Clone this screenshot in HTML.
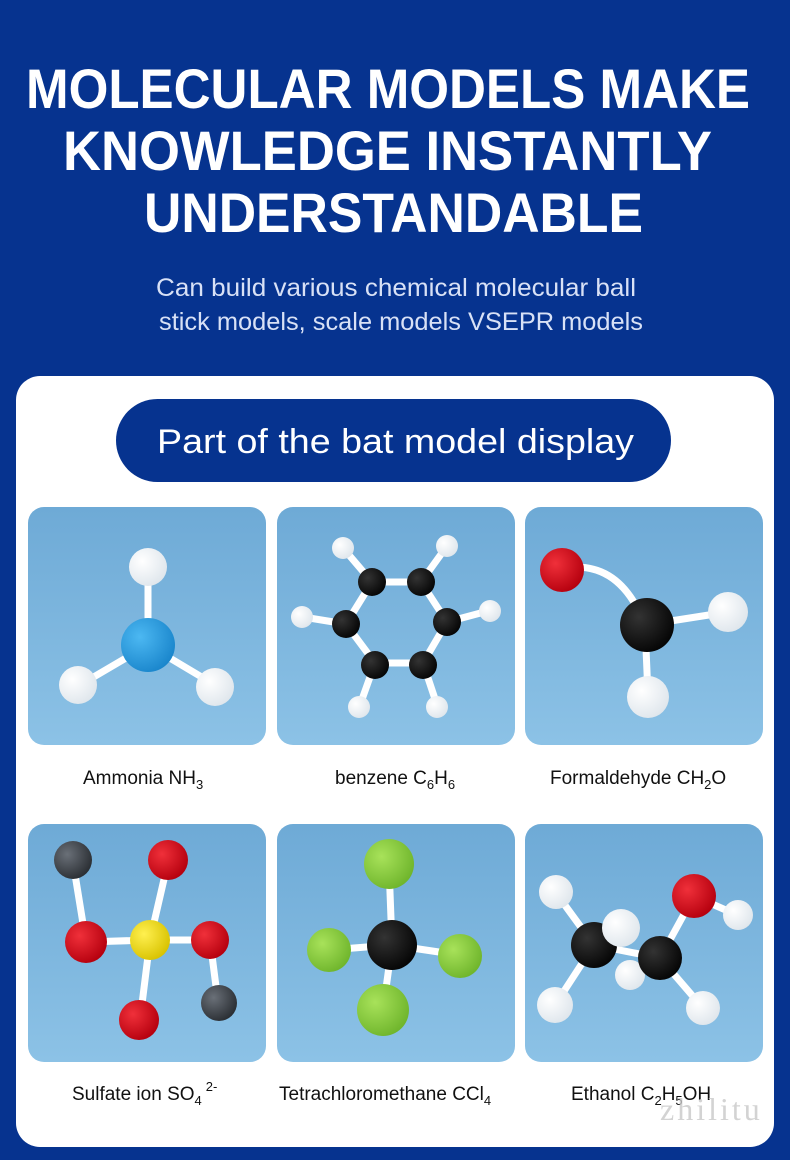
<!DOCTYPE html>
<html><head><meta charset="utf-8"><style>html,body{margin:0;padding:0;background:#06338f}svg{display:block}</style></head><body>
<svg width="790" height="1160" viewBox="0 0 790 1160" xmlns="http://www.w3.org/2000/svg" font-family="Liberation Sans, sans-serif">
<defs>
<linearGradient id="bg" x1="0" y1="0" x2="0" y2="1"><stop offset="0" stop-color="#6eaad6"/><stop offset="1" stop-color="#8cc2e6"/></linearGradient>
<radialGradient id="w" cx="0.35" cy="0.35" r="0.7"><stop offset="0" stop-color="#ffffff"/><stop offset="1" stop-color="#dfe6ec"/></radialGradient>
<radialGradient id="k" cx="0.35" cy="0.35" r="0.7"><stop offset="0" stop-color="#333"/><stop offset="1" stop-color="#050505"/></radialGradient>
<radialGradient id="r" cx="0.35" cy="0.35" r="0.7"><stop offset="0" stop-color="#f0303a"/><stop offset="1" stop-color="#b5000e"/></radialGradient>
<radialGradient id="g" cx="0.35" cy="0.35" r="0.7"><stop offset="0" stop-color="#a8e25a"/><stop offset="1" stop-color="#6fb52c"/></radialGradient>
<radialGradient id="b" cx="0.35" cy="0.35" r="0.7"><stop offset="0" stop-color="#4cb8f2"/><stop offset="1" stop-color="#1a86cc"/></radialGradient>
<radialGradient id="y" cx="0.35" cy="0.35" r="0.7"><stop offset="0" stop-color="#fff050"/><stop offset="1" stop-color="#d8c200"/></radialGradient>
<radialGradient id="d" cx="0.35" cy="0.35" r="0.7"><stop offset="0" stop-color="#6a7078"/><stop offset="1" stop-color="#2a2e33"/></radialGradient>
</defs>
<rect width="790" height="1160" fill="#06338f"/>
<g fill="#fff" font-weight="bold" font-size="56">
<text x="26" y="108" textLength="724" lengthAdjust="spacingAndGlyphs">MOLECULAR MODELS MAKE</text>
<text x="63" y="170" textLength="649" lengthAdjust="spacingAndGlyphs">KNOWLEDGE INSTANTLY</text>
<text x="144" y="232" textLength="499" lengthAdjust="spacingAndGlyphs">UNDERSTANDABLE</text>
</g>
<g fill="#d8e1f6" font-size="25">
<text x="156" y="296" textLength="480" lengthAdjust="spacingAndGlyphs">Can build various chemical molecular ball</text>
<text x="159" y="330" textLength="484" lengthAdjust="spacingAndGlyphs">stick models, scale models VSEPR models</text>
</g>
<rect x="16" y="376" width="758" height="771" rx="24" fill="#fff"/>
<rect x="116" y="399" width="555" height="83" rx="41.5" fill="#06338f"/>
<text x="157" y="453" fill="#fff" font-size="34" textLength="477" lengthAdjust="spacingAndGlyphs">Part of the bat model display</text>
<g>
<rect x="28" y="507" width="238" height="238" rx="16" fill="url(#bg)"/>
<rect x="277" y="507" width="238" height="238" rx="16" fill="url(#bg)"/>
<rect x="525" y="507" width="238" height="238" rx="16" fill="url(#bg)"/>
<rect x="28" y="824" width="238" height="238" rx="16" fill="url(#bg)"/>
<rect x="277" y="824" width="238" height="238" rx="16" fill="url(#bg)"/>
<rect x="525" y="824" width="238" height="238" rx="16" fill="url(#bg)"/>
</g>
<g stroke="#fff" stroke-width="7" stroke-linecap="round" fill="none">
<!-- ammonia -->
<line x1="148" y1="565" x2="148" y2="645"/><line x1="148" y1="645" x2="80" y2="685"/><line x1="148" y1="645" x2="215" y2="685"/>
<!-- benzene -->
<polygon points="372,582 421,582 447,622 423,663 375,663 346,624"/>
<line x1="372" y1="582" x2="343" y2="548"/><line x1="421" y1="582" x2="447" y2="546"/><line x1="447" y1="622" x2="488" y2="611"/><line x1="346" y1="624" x2="303" y2="617"/><line x1="375" y1="663" x2="360" y2="705"/><line x1="423" y1="663" x2="437" y2="705"/>
<!-- formaldehyde -->
<path d="M565,568 Q620,560 645,625"/><line x1="645" y1="625" x2="728" y2="612"/><line x1="645" y1="625" x2="648" y2="695"/>
<!-- sulfate -->
<line x1="150" y1="940" x2="86" y2="942"/><line x1="150" y1="940" x2="210" y2="940"/><line x1="150" y1="940" x2="168" y2="862"/><line x1="150" y1="940" x2="140" y2="1020"/><line x1="86" y1="942" x2="73" y2="862"/><line x1="210" y1="940" x2="218" y2="1002"/>
<!-- CCl4 -->
<line x1="392" y1="945" x2="389" y2="866"/><line x1="392" y1="945" x2="329" y2="950"/><line x1="392" y1="945" x2="459" y2="955"/><line x1="392" y1="945" x2="383" y2="1010"/>
<!-- ethanol -->
<line x1="594" y1="945" x2="556" y2="893"/><line x1="594" y1="945" x2="555" y2="1005"/><line x1="594" y1="945" x2="660" y2="958"/><line x1="660" y1="958" x2="694" y2="896"/><line x1="694" y1="896" x2="737" y2="915"/><line x1="660" y1="958" x2="703" y2="1008"/><line x1="660" y1="958" x2="630" y2="975"/>
</g>
<!-- atoms -->
<g>
<circle cx="148" cy="567" r="19" fill="url(#w)"/><circle cx="148" cy="645" r="27" fill="url(#b)"/><circle cx="78" cy="685" r="19" fill="url(#w)"/><circle cx="215" cy="687" r="19" fill="url(#w)"/>
<circle cx="343" cy="548" r="11" fill="url(#w)"/><circle cx="447" cy="546" r="11" fill="url(#w)"/><circle cx="490" cy="611" r="11" fill="url(#w)"/><circle cx="302" cy="617" r="11" fill="url(#w)"/><circle cx="359" cy="707" r="11" fill="url(#w)"/><circle cx="437" cy="707" r="11" fill="url(#w)"/>
<circle cx="372" cy="582" r="14" fill="url(#k)"/><circle cx="421" cy="582" r="14" fill="url(#k)"/><circle cx="447" cy="622" r="14" fill="url(#k)"/><circle cx="346" cy="624" r="14" fill="url(#k)"/><circle cx="375" cy="665" r="14" fill="url(#k)"/><circle cx="423" cy="665" r="14" fill="url(#k)"/>
<circle cx="562" cy="570" r="22" fill="url(#r)"/><circle cx="728" cy="612" r="20" fill="url(#w)"/><circle cx="647" cy="625" r="27" fill="url(#k)"/><circle cx="648" cy="697" r="21" fill="url(#w)"/>
<circle cx="73" cy="860" r="19" fill="url(#d)"/><circle cx="168" cy="860" r="20" fill="url(#r)"/><circle cx="86" cy="942" r="21" fill="url(#r)"/><circle cx="210" cy="940" r="19" fill="url(#r)"/><circle cx="150" cy="940" r="20" fill="url(#y)"/><circle cx="219" cy="1003" r="18" fill="url(#d)"/><circle cx="139" cy="1020" r="20" fill="url(#r)"/>
<circle cx="389" cy="864" r="25" fill="url(#g)"/><circle cx="329" cy="950" r="22" fill="url(#g)"/><circle cx="460" cy="956" r="22" fill="url(#g)"/><circle cx="392" cy="945" r="25" fill="url(#k)"/><circle cx="383" cy="1010" r="26" fill="url(#g)"/>
<circle cx="556" cy="892" r="17" fill="url(#w)"/><circle cx="594" cy="945" r="23" fill="url(#k)"/><circle cx="621" cy="928" r="19" fill="url(#w)"/><circle cx="555" cy="1005" r="18" fill="url(#w)"/><circle cx="630" cy="975" r="15" fill="url(#w)"/><circle cx="660" cy="958" r="22" fill="url(#k)"/><circle cx="694" cy="896" r="22" fill="url(#r)"/><circle cx="738" cy="915" r="15" fill="url(#w)"/><circle cx="703" cy="1008" r="17" fill="url(#w)"/>
</g>
<g fill="#111" font-size="19">
<text x="83" y="784">Ammonia NH<tspan font-size="13" dy="5">3</tspan></text>
<text x="335" y="784">benzene C<tspan font-size="13" dy="5">6</tspan><tspan dy="-5">H</tspan><tspan font-size="13" dy="5">6</tspan></text>
<text x="550" y="784">Formaldehyde CH<tspan font-size="13" dy="5">2</tspan><tspan dy="-5">O</tspan></text>
<text x="72" y="1100">Sulfate ion SO<tspan font-size="13" dy="5">4</tspan><tspan font-size="13" dy="-14" dx="4">2-</tspan></text>
<text x="279" y="1100">Tetrachloromethane CCl<tspan font-size="13" dy="5">4</tspan></text>
<text x="571" y="1100">Ethanol C<tspan font-size="13" dy="5">2</tspan><tspan dy="-5">H</tspan><tspan font-size="13" dy="5">5</tspan><tspan dy="-5">OH</tspan></text>
</g>
<text x="660" y="1120" fill="#c8c8c8" fill-opacity="0.8" font-family="Liberation Serif, serif" font-size="32" letter-spacing="3">zhilitu</text>
</svg>
</body></html>
